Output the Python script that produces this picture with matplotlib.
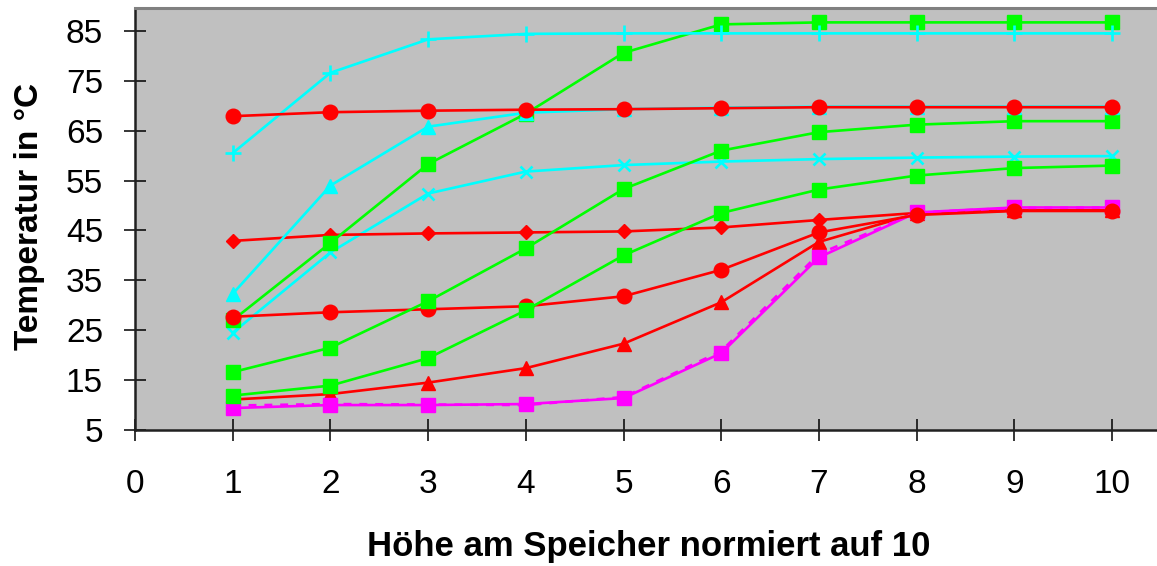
import matplotlib
matplotlib.use("Agg")
import matplotlib.pyplot as plt

plt.rcParams['font.family'] = ['Liberation Sans', 'DejaVu Sans']

# Height positions in the storage tank (normalised to 10)
hoehe = [1, 2, 3, 4, 5, 6, 7, 8, 9, 10]

# Temperature profiles in °C
cyan_x = [24.5, 40.6, 52.4, 56.8, 58.1, 58.8, 59.3, 59.6, 59.8, 59.9]
rot_raute = [42.9, 44.1, 44.4, 44.6, 44.8, 45.6, 47.1, 48.5, 49.0, 49.0]
rot_dreieck = [11.1, 12.2, 14.5, 17.4, 22.3, 30.6, 42.7, 48.4, 49.0, 49.0]
gruen_a = [27.0, 42.5, 58.3, 68.4, 80.6, 86.3, 86.7, 86.7, 86.7, 86.7]
magenta_gestrichelt = [9.9, 10.2, 10.1, 10.0, 11.6, 20.8, 40.3, 48.6, 49.5, 49.6]
magenta = [9.4, 10.0, 10.0, 10.2, 11.4, 20.4, 39.6, 48.6, 49.6, 49.6]
rot_kreis = [27.7, 28.6, 29.2, 29.8, 31.8, 37.1, 44.6, 48.1, 48.9, 48.9]
gruen_b = [16.6, 21.5, 30.8, 41.4, 53.3, 61.0, 64.7, 66.2, 66.9, 66.9]
gruen_c = [11.9, 13.9, 19.4, 29.0, 40.0, 48.5, 53.2, 56.0, 57.5, 58.0]
cyan_dreieck = [32.3, 54.0, 65.8, 68.6, 69.3, 69.6, 69.8, 69.8, 69.8, 69.8]
cyan_plus = [60.5, 76.6, 83.3, 84.4, 84.5, 84.5, 84.5, 84.5, 84.5, 84.5]
rot_kreis_oben = [67.9, 68.7, 69.0, 69.2, 69.3, 69.5, 69.7, 69.7, 69.7, 69.7]

x_ticks = list(range(0, 11))
y_ticks = [5, 15, 25, 35, 45, 55, 65, 75, 85]

CYAN = '#00FFFF'
ROT = '#FF0000'
GRUEN = '#00FF00'
MAGENTA = '#FF00FF'

fig = plt.figure(figsize=(11.57, 5.66), dpi=100)
ax = fig.add_axes([0.1167, 0.2403, 0.8833, 0.7457])
ax.set_facecolor('#C0C0C0')

lw = 1.9
ax.plot(hoehe, cyan_x, color=CYAN, lw=lw, marker='x', ms=9, mew=1.9)
ax.plot(hoehe, rot_raute, color=ROT, lw=lw, marker='D', ms=7.5)
ax.plot(hoehe, rot_dreieck, color=ROT, lw=lw, marker='^', ms=10)
ax.plot(hoehe, gruen_a, color=GRUEN, lw=lw, marker='s', ms=10)
ax.plot(hoehe, magenta_gestrichelt, color=MAGENTA, lw=lw, ls=(0, (3, 3)))
ax.plot(hoehe, magenta, color=MAGENTA, lw=lw, marker='s', ms=10)
ax.plot(hoehe, rot_kreis, color=ROT, lw=lw, marker='o', ms=10.5)
ax.plot(hoehe, gruen_b, color=GRUEN, lw=lw, marker='s', ms=10)
ax.plot(hoehe, gruen_c, color=GRUEN, lw=lw, marker='s', ms=10)
ax.plot(hoehe, cyan_dreieck, color=CYAN, lw=lw, marker='^', ms=10)
ax.plot(hoehe, cyan_plus, color=CYAN, lw=lw, marker='+', ms=12, mew=1.9)
ax.plot(hoehe, rot_kreis_oben, color=ROT, lw=lw, marker='o', ms=10.5)

ax.set_xlim(0, 10.46)
ax.set_ylim(5, 89.6)
ax.set_xticks(x_ticks)
ax.set_yticks(y_ticks)

ax.tick_params(axis='both', direction='inout', length=16, width=1.1,
               colors='black', labelsize=24)
ax.tick_params(axis='y', pad=15)
ax.tick_params(axis='x', pad=20)

for side in ('left', 'bottom'):
    ax.spines[side].set_color('#202020')
    ax.spines[side].set_linewidth(1.8)
ax.spines['top'].set_color('#808080')
ax.spines['top'].set_linewidth(2.2)
ax.spines['right'].set_visible(False)

ax.set_ylabel('Temperatur in °C', fontsize=24, fontweight='bold')
ax.yaxis.set_label_coords(-0.088, 0.507)
ax.set_xlabel('Höhe am Speicher normiert auf 10', fontsize=25,
              fontweight='bold')
ax.xaxis.set_label_coords(0.5025, -0.237)

fig.savefig('out.png', dpi=100)
